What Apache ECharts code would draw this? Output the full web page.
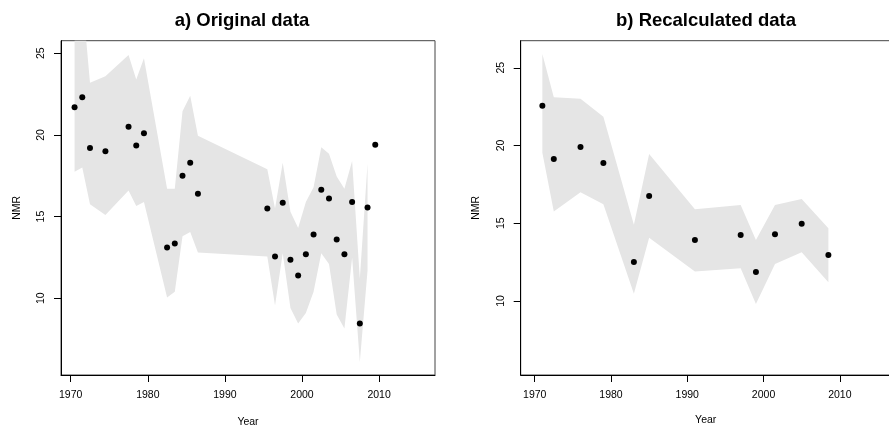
<!DOCTYPE html>
<html>
<head>
<meta charset="utf-8">
<script src="https://cdn.jsdelivr.net/npm/echarts@6/dist/echarts.min.js"></script>
<style>
  html, body { margin: 0; padding: 0; background: #fff; }
  #chart { width: 889px; height: 428px; }
</style>
</head>
<body>
<div id="chart"></div>
<script>
// Panel a) original series: yearly NMR estimates with uncertainty band
const yearsA = [1970.5, 1971.5, 1972.5, 1974.5, 1977.5, 1978.5, 1979.5, 1982.5, 1983.5, 1984.5, 1985.5, 1986.5,
                1995.5, 1996.5, 1997.5, 1998.5, 1999.5, 2000.5, 2001.5, 2002.5, 2003.5, 2004.5, 2005.5, 2006.5,
                2007.5, 2008.5, 2009.5];
const nmrA   = [21.7, 22.3, 19.2, 19.0, 20.5, 19.35, 20.1, 13.1, 13.35, 17.5, 18.3, 16.4,
                15.5, 12.55, 15.85, 12.35, 11.4, 12.7, 13.9, 16.65, 16.1, 13.6, 12.7, 15.9,
                8.45, 15.55, 19.4];
const upperA = [28.0, 28.5, 23.2, 23.6, 24.9, 23.4, 24.7, 16.7, 16.7, 21.45, 22.4, 19.95,
                17.9, 15.5, 18.3, 15.3, 14.3, 15.9, 16.8, 19.25, 18.85, 17.45, 16.7, 18.4,
                11.2, 18.25, null];
const lowerA = [17.75, 18.0, 15.75, 15.1, 16.6, 15.65, 15.9, 10.05, 10.4, 13.8, 14.05, 12.8,
                12.55, 9.55, 12.75, 9.4, 8.45, 9.1, 10.4, 12.75, 12.1, 9.0, 8.15, 12.5,
                6.1, 11.7, null];

// Panel b) recalculated series
const yearsB = [1971, 1972.5, 1976, 1979, 1983, 1985, 1991, 1997, 1999, 2001.5, 2005, 2008.5];
const nmrB   = [22.55, 19.13, 19.9, 18.88, 12.5, 16.75, 13.93, 14.25, 11.87, 14.3, 14.97, 12.96];
const upperB = [25.88, 23.1, 23.0, 21.85, 14.9, 19.45, 15.9, 16.18, 13.93, 16.18, 16.56, 14.68];
const lowerB = [19.54, 15.75, 16.99, 16.22, 10.46, 14.07, 11.89, 12.11, 9.81, 12.38, 13.13, 11.21];

// Tick positions
const xTicks = [1970, 1980, 1990, 2000, 2010];
const yTicks = [10, 15, 20, 25];

const titles = ['a) Original data', 'b) Recalculated data'];

const FONT = 'Liberation Sans, Arial, Helvetica, sans-serif';
const BAND = '#e5e5e5';

function pairs(xs, ys) {
  return xs.map((x, i) => [x, ys[i]]);
}

function xAxis(idx, min, max, gap) {
  return {
    type: 'value', gridIndex: idx, min: min, max: max,
    name: 'Year', nameLocation: 'middle', nameGap: gap,
    nameTextStyle: { fontFamily: FONT, fontSize: 10.5, color: '#000' },
    axisLine: { show: true, onZero: false, lineStyle: { color: '#000', width: 1 } },
    axisTick: { show: true, inside: false, length: 7, customValues: xTicks, lineStyle: { color: '#000', width: 1 } },
    axisLabel: { show: true, margin: 15, customValues: xTicks, formatter: v => String(v),
                 fontFamily: FONT, fontSize: 10.5, color: '#000' },
    splitLine: { show: false }
  };
}
function yAxis(idx, min, max, gap) {
  return {
    type: 'value', gridIndex: idx, min: min, max: max,
    name: 'NMR', nameLocation: 'middle', nameGap: gap, nameRotate: 90,
    nameTextStyle: { fontFamily: FONT, fontSize: 10.5, color: '#000' },
    axisLine: { show: true, onZero: false, lineStyle: { color: '#000', width: 1 } },
    axisTick: { show: true, inside: false, length: 7, customValues: yTicks, lineStyle: { color: '#000', width: 1 } },
    axisLabel: { show: true, rotate: 90, margin: 14, customValues: yTicks, formatter: v => String(v),
                 fontFamily: FONT, fontSize: 10.5, color: '#000' },
    splitLine: { show: false }
  };
}

// Uncertainty band: one polygon per panel, upper edge left-to-right then lower edge back,
// projected through the panel's axes and clipped to its plotting area.
function bandSeries(idx, xs, lo, hi) {
  const rows = xs.map((x, i) => [x, lo[i], hi[i]]);
  return {
    type: 'custom', xAxisIndex: idx, yAxisIndex: idx, silent: true, z: 1,
    data: rows,
    encode: { x: 0, y: [1, 2] },
    renderItem: function (params, api) {
      if (params.dataIndex !== 0) return null;
      const valid = rows.filter(r => r[1] != null && r[2] != null);
      const top = valid.map(r => api.coord([r[0], r[2]]));
      const bottom = valid.map(r => api.coord([r[0], r[1]])).reverse();
      const cs = params.coordSys;
      return {
        type: 'polygon',
        shape: { points: top.concat(bottom) },
        style: { fill: BAND, stroke: null },
        clipPath: { type: 'rect', shape: { x: cs.x, y: cs.y, width: cs.width, height: cs.height } }
      };
    }
  };
}
function pointSeries(idx, xs, ys) {
  return {
    type: 'scatter', xAxisIndex: idx, yAxisIndex: idx,
    data: pairs(xs, ys), symbol: 'circle', symbolSize: 6,
    itemStyle: { color: '#000', opacity: 1 }, z: 5
  };
}

const chart = echarts.init(document.getElementById('chart'), null, { renderer: 'canvas' });
chart.setOption({
  animation: false,
  backgroundColor: '#fff',
  title: [
    { text: titles[0], left: 237, top: 6, textAlign: 'center',
      textStyle: { fontFamily: FONT, fontWeight: 'bold', fontSize: 18.5, color: '#000' } },
    { text: titles[1], left: 701, top: 6, textAlign: 'center',
      textStyle: { fontFamily: FONT, fontWeight: 'bold', fontSize: 18.5, color: '#000' } }
  ],
  grid: [
    { left: 61, top: 40.7, width: 374, height: 334.3, outerBoundsMode: 'none', containLabel: false,
      show: true, borderColor: '#444', borderWidth: 1, backgroundColor: 'transparent' },
    { left: 520.7, top: 40.7, width: 370, height: 334.3, outerBoundsMode: 'none', containLabel: false,
      show: true, borderColor: '#444', borderWidth: 1, backgroundColor: 'transparent' }
  ],
  xAxis: [xAxis(0, 1968.74, 2017.25, 42), xAxis(1, 1968.16, 2016.67, 40)],
  yAxis: [yAxis(0, 5.30, 25.77, 38), yAxis(1, 5.24, 26.74, 39.5)],
  series: [
    bandSeries(0, yearsA, lowerA, upperA),
    pointSeries(0, yearsA, nmrA),
    bandSeries(1, yearsB, lowerB, upperB),
    pointSeries(1, yearsB, nmrB)
  ]
});
</script>
</body>
</html>
